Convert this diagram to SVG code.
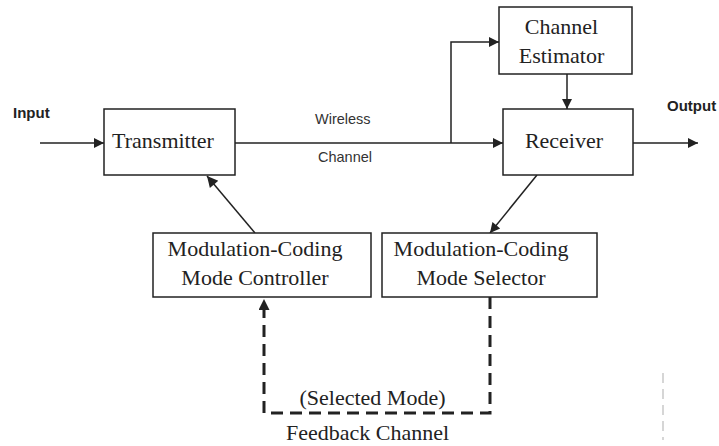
<svg xmlns="http://www.w3.org/2000/svg" width="719" height="446" viewBox="0 0 719 446">
  <style>
    .box { fill: #ffffff; stroke: #222222; stroke-width: 1.5; }
    .lbl { font-family: "Liberation Serif", "Times New Roman", serif; font-size: 22px; fill: #222222; text-anchor: middle; }
    .sans { font-family: "Liberation Sans", Arial, sans-serif; font-size: 14.5px; fill: #333333; }
    .bold { font-weight: bold; font-size: 15px; fill: #222222; }
    .wire { fill: none; stroke: #222222; stroke-width: 1.5; }
    .dash { fill: none; stroke: #222222; stroke-width: 3; stroke-dasharray: 12 7; }
  </style>
  <defs>
    <marker id="arrow" viewBox="0 0 10 10" refX="10" refY="5" markerWidth="12" markerHeight="10" markerUnits="userSpaceOnUse" orient="auto">
      <path d="M0,0 L10,5 L0,10 z" fill="#222222"/>
    </marker>
    <marker id="arrowBig" viewBox="0 0 10 10" refX="10" refY="5" markerWidth="14" markerHeight="11" markerUnits="userSpaceOnUse" orient="auto">
      <path d="M0,0 L10,5 L0,10 z" fill="#222222"/>
    </marker>
  </defs>
  <rect width="719" height="446" fill="#ffffff"/>

  <!-- free-standing labels -->
  <text class="sans bold" x="13" y="118">Input</text>
  <text class="sans bold" x="667" y="111">Output</text>
  <text class="sans" x="315" y="124">Wireless</text>
  <text class="sans" x="318" y="162">Channel</text>
  <text class="lbl" x="372.5" y="405">(Selected Mode)</text>
  <text class="lbl" x="367.5" y="440">Feedback Channel</text>

  <g id="connectors">
    <line class="wire" x1="40" y1="143" x2="104" y2="143" marker-end="url(#arrow)"/>
    <line class="wire" x1="235" y1="143" x2="503" y2="143" marker-end="url(#arrow)"/>
    <polyline class="wire" points="451,143 451,42 499,42" marker-end="url(#arrow)"/>
    <line class="wire" x1="567" y1="74" x2="567" y2="109" marker-end="url(#arrow)"/>
    <line class="wire" x1="633" y1="143" x2="698" y2="143" marker-end="url(#arrow)"/>
    <line class="wire" x1="537" y1="175" x2="490" y2="233" marker-end="url(#arrow)"/>
    <line class="wire" x1="255" y1="233" x2="207" y2="176" marker-end="url(#arrowBig)"/>
    <polyline class="dash" points="490,297 490,413 264,413 264,299" marker-end="url(#arrowBig)"/>
    <line x1="663" y1="373" x2="663" y2="440" stroke="#bbbbbb" stroke-width="1.2" stroke-dasharray="10 6"/>
  </g>

  <g id="transmitter">
    <rect class="box" x="104" y="109" width="131" height="66"/>
    <text class="lbl" x="163" y="148">Transmitter</text>
  </g>
  <g id="channel-estimator">
    <rect class="box" x="499" y="7" width="133" height="67"/>
    <text class="lbl" x="561.5" y="34">Channel</text>
    <text class="lbl" x="561.5" y="63">Estimator</text>
  </g>
  <g id="receiver">
    <rect class="box" x="503" y="109" width="130" height="66"/>
    <text class="lbl" x="564" y="148">Receiver</text>
  </g>
  <g id="mode-controller">
    <rect class="box" x="153" y="233" width="218" height="64"/>
    <text class="lbl" x="255" y="256">Modulation-Coding</text>
    <text class="lbl" x="255" y="285">Mode Controller</text>
  </g>
  <g id="mode-selector">
    <rect class="box" x="382" y="233" width="215" height="64"/>
    <text class="lbl" x="481" y="256">Modulation-Coding</text>
    <text class="lbl" x="481" y="285">Mode Selector</text>
  </g>
</svg>
